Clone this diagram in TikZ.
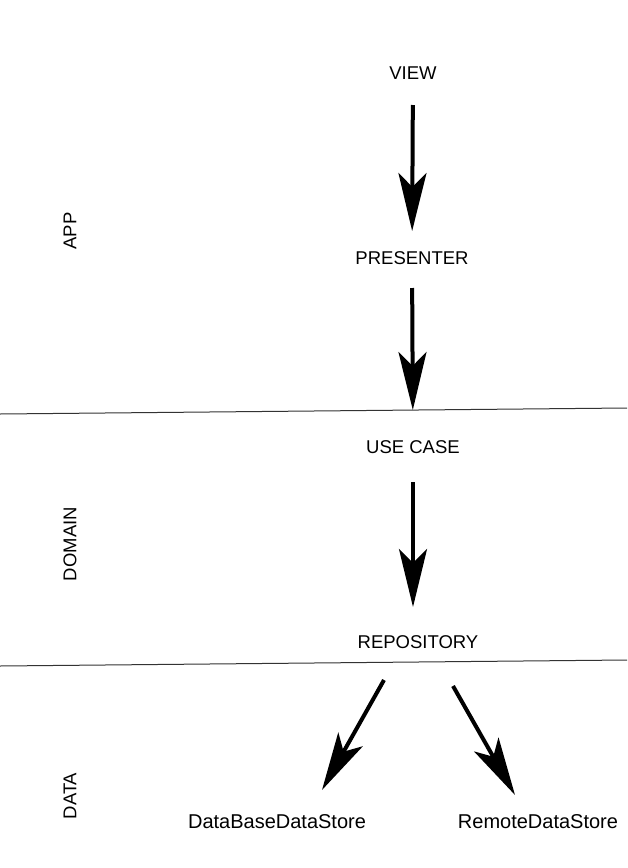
\documentclass[tikz,border=0pt]{standalone}
\usepackage{fontspec}
\setmainfont{Liberation Sans}
\usetikzlibrary{arrows.meta}
\tikzset{
  layer/.style={font=\fontsize{18.5}{22}\selectfont, inner sep=0pt},
  store/.style={font=\fontsize{20}{24}\selectfont, inner sep=0pt},
  side/.style={layer, rotate=90},
  dep/.style={line width=4pt, -{Stealth[length=58pt, width=28pt, inset=14pt]}},
  sep/.style={line width=1pt, black!80},
}
\begin{document}
\begin{tikzpicture}[x=1pt, y=-1pt]
			\useasboundingbox (0,0) rectangle (627,868);
			\node[layer] (view) at (413,73) {VIEW};
			\node[layer] (presenter) at (412,258) {PRESENTER};
			\node[layer] (usecase) at (413,447) {USE CASE};
			\node[layer] (repo) at (418,642) {REPOSITORY};
			\node[store] (db) at (277,822) {DataBaseDataStore};
			\node[store] (remote) at (538,822) {RemoteDataStore};
			\node[side] (app) at (70,231) {APP};
			\node[side] (domain) at (70,544) {DOMAIN};
			\node[side] (data) at (70,796) {DATA};
			\draw[sep] (0,414) -- (627,408);
			\draw[sep] (0,666) -- (627,660);
			\draw[dep, shorten <=32pt, shorten >=27pt] (view.center) -- (presenter.center);
			\draw[dep, shorten <=30pt, shorten >=37pt] (presenter.center) -- (usecase.center);
			\draw[dep, shorten <=35pt, shorten >=35pt] (usecase.center) -- ([xshift=-5pt]repo.center);
			\coordinate (repo-l) at (384,680);
			\coordinate (repo-r) at (453,686);
			\coordinate (db-in) at (322,790);
			\coordinate (remote-in) at (515,795);
			\draw[dep] (repo-l) -- (db-in);
			\draw[dep] (repo-r) -- (remote-in);
			\end{tikzpicture}
\end{document}
